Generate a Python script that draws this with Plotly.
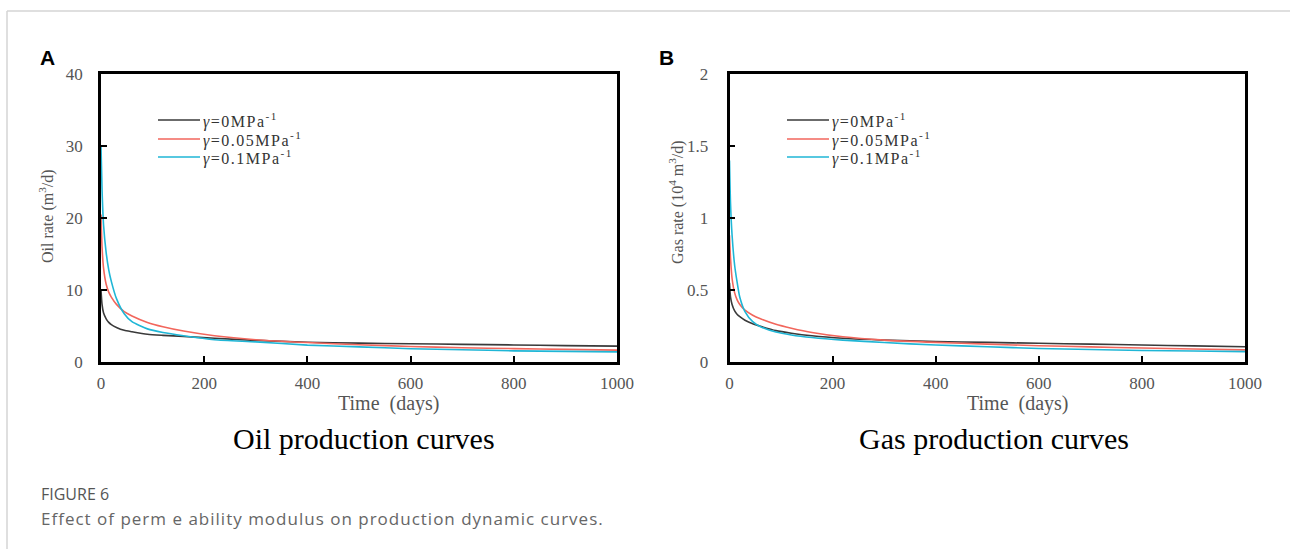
import plotly.graph_objects as go

W, H = 1290, 549

# ---------------- data ----------------
days = [0, 2, 5, 10, 15, 20, 30, 45, 60, 90, 120, 160, 220, 300, 400, 500, 600, 700, 800, 900, 1000]

series_names = ["<i>γ</i>=0MPa<sup>-1</sup>", "<i>γ</i>=0.05MPa<sup>-1</sup>", "<i>γ</i>=0.1MPa<sup>-1</sup>"]
series_colors = ["#3a3a3a", "#f2665c", "#1fb6d6"]

oil_g0 = [10.0, 8.0, 6.8, 6.0, 5.5, 5.2, 4.8, 4.4, 4.2, 3.85, 3.7, 3.55, 3.3, 3.0, 2.75, 2.62, 2.53, 2.45, 2.37, 2.28, 2.2]
oil_g005 = [20.5, 16.0, 13.0, 10.8, 9.7, 9.0, 8.0, 7.0, 6.4, 5.5, 4.9, 4.3, 3.65, 3.1, 2.7, 2.4, 2.15, 1.98, 1.86, 1.75, 1.65]
oil_g01 = [30.0, 24.0, 19.0, 15.2, 12.8, 11.2, 8.8, 6.7, 5.6, 4.6, 4.1, 3.65, 3.1, 2.8, 2.35, 2.1, 1.85, 1.7, 1.55, 1.47, 1.4]

gas_g0 = [0.55, 0.45, 0.40, 0.355, 0.33, 0.315, 0.29, 0.265, 0.248, 0.218, 0.2, 0.182, 0.165, 0.152, 0.142, 0.136, 0.13, 0.124, 0.118, 0.112, 0.106]
gas_g005 = [0.88, 0.72, 0.58, 0.48, 0.43, 0.40, 0.36, 0.325, 0.30, 0.262, 0.235, 0.205, 0.175, 0.152, 0.136, 0.124, 0.113, 0.105, 0.097, 0.09, 0.084]
gas_g01 = [1.4, 1.1, 0.88, 0.67, 0.55, 0.45, 0.35, 0.28, 0.245, 0.208, 0.188, 0.17, 0.152, 0.135, 0.118, 0.106, 0.094, 0.087, 0.08, 0.076, 0.072]

x_ticks = [0, 200, 400, 600, 800, 1000]
oil_ticks = [0, 10, 20, 30, 40]
gas_ticks = [0, 0.5, 1, 1.5, 2]
gas_tick_text = ["0", "0.5", "1", "1.5", "2"]

# ---------------- helpers ----------------
def px(x):
    return x / W

def py(y):
    return 1 - y / H

fig = go.Figure()

for name, color, ys in zip(series_names, series_colors, [oil_g0, oil_g005, oil_g01]):
    fig.add_trace(go.Scatter(x=days, y=ys, mode="lines", name=name, showlegend=False,
                             line=dict(color=color, width=1.6, shape="spline", smoothing=0.6),
                             xaxis="x", yaxis="y"))
for name, color, ys in zip(series_names, series_colors, [gas_g0, gas_g005, gas_g01]):
    fig.add_trace(go.Scatter(x=days, y=ys, mode="lines", name=name, showlegend=False,
                             line=dict(color=color, width=1.6, shape="spline", smoothing=0.6),
                             xaxis="x2", yaxis="y2"))

serif = "Liberation Serif, Times New Roman, serif"
sans = "Open Sans, Noto Sans, sans-serif"
tick_font = dict(family=serif, size=17, color="#555555")

axis_common = dict(showline=True, mirror=True, linewidth=2.5, linecolor="black",
                   ticks="inside", ticklen=6, tickwidth=1.5, tickcolor="black",
                   showgrid=False, zeroline=False, tickfont=tick_font, automargin=False)

A_x0, A_x1 = 101, 617
B_x0, B_x1 = 729.5, 1245
Y_top, Y_bot = 74, 362

fig.update_layout(
    width=W, height=H,
    margin=dict(l=0, r=0, t=0, b=0, autoexpand=False),
    paper_bgcolor="white", plot_bgcolor="white",
    showlegend=False,
    xaxis=dict(domain=[px(A_x0), px(A_x1)], range=[0, 1000], tickvals=x_ticks,
               anchor="y", ticklabelstandoff=4, **axis_common),
    yaxis=dict(domain=[py(Y_bot), py(Y_top)], range=[0, 40], tickvals=oil_ticks,
               anchor="x", ticklabelstandoff=12, **axis_common),
    xaxis2=dict(domain=[px(B_x0), px(B_x1)], range=[0, 1000], tickvals=x_ticks,
                anchor="y2", ticklabelstandoff=4, **axis_common),
    yaxis2=dict(domain=[py(Y_bot), py(Y_top)], range=[0, 2], tickvals=gas_ticks,
                ticktext=gas_tick_text, anchor="x2", ticklabelstandoff=15, **axis_common),
)

annotations = [
    # panel letters
    dict(text="<b>A</b>", x=px(38), y=py(57), xanchor="left", yanchor="middle",
         font=dict(family="Liberation Sans, Arial, sans-serif", size=21, color="black")),
    dict(text="<b>B</b>", x=px(657), y=py(57), xanchor="left", yanchor="middle",
         font=dict(family="Liberation Sans, Arial, sans-serif", size=21, color="black")),
    # y titles
    dict(text="Oil rate (m<sup>3</sup>/d)", x=px(46), y=py(216), textangle=-90,
         xanchor="center", yanchor="middle",
         font=dict(family=serif, size=16, color="#555555")),
    dict(text="Gas rate (10<sup>4</sup> m<sup>3</sup>/d)", x=px(676), y=py(202), textangle=-90,
         xanchor="center", yanchor="middle",
         font=dict(family=serif, size=16, color="#555555")),
    # x titles
    dict(text="Time\u2002(days)", x=px(388), y=py(403), xanchor="center", yanchor="middle",
         font=dict(family=serif, size=20, color="#555555")),
    dict(text="Time\u2002(days)", x=px(1017), y=py(403), xanchor="center", yanchor="middle",
         font=dict(family=serif, size=20, color="#555555")),
    # sub captions
    dict(text="Oil production curves", x=px(364), y=py(438), xanchor="center", yanchor="middle",
         font=dict(family=serif, size=30, color="black")),
    dict(text="Gas production curves", x=px(994), y=py(438), xanchor="center", yanchor="middle",
         font=dict(family=serif, size=30, color="black")),
    # figure caption
    dict(text="FIGURE 6", x=px(39), y=py(494), xanchor="left", yanchor="middle",
         font=dict(family=sans, size=16, color="#555555")),
    dict(text="<span style='letter-spacing:1px'>Effect of perm e ability modulus on production dynamic curves.</span>",
         x=px(39), y=py(518), xanchor="left", yanchor="middle",
         font=dict(family=sans, size=17, color="#666666")),
]

# manual legends (sample line + label) for both panels
legend_rows = [120, 139, 157]
legend_sets = [(158, 200), (787, 829)]
shapes = []
for (lx0, lx1) in legend_sets:
    for name, color, ry in zip(series_names, series_colors, legend_rows):
        shapes.append(dict(type="line", xref="paper", yref="paper",
                           x0=px(lx0), x1=px(lx1), y0=py(ry), y1=py(ry),
                           line=dict(color=color, width=1.6)))
        annotations.append(dict(text="<span style='letter-spacing:1.5px'>" + name + "</span>",
                                x=px(lx1 + 1), y=py(ry), xanchor="left", yanchor="middle",
                                font=dict(family=serif, size=16, color="#333333")))

for a in annotations:
    a.update(xref="paper", yref="paper", showarrow=False)

# card border (left and top)
shapes.append(dict(type="line", xref="paper", yref="paper", x0=px(7), x1=px(7), y0=0, y1=py(11),
                   line=dict(color="#d4d4d4", width=1.5)))
shapes.append(dict(type="line", xref="paper", yref="paper", x0=px(7), x1=1, y0=py(11), y1=py(11),
                   line=dict(color="#d4d4d4", width=1.5)))

fig.update_layout(annotations=annotations, shapes=shapes)

fig.write_html("out.html",
               config={"displayModeBar": False},
               post_script="document.body.style.margin='0';document.body.style.overflow='hidden';")
